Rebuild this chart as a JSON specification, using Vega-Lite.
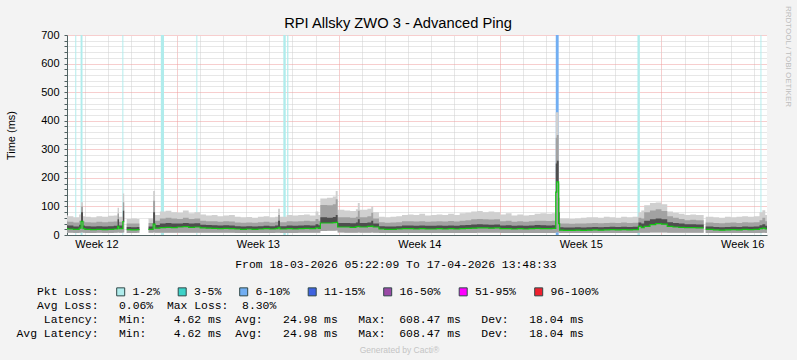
{
  "$schema": "https://vega.github.io/schema/vega-lite/v6.json",
  "width": 700,
  "height": 200,
  "autosize": {"type": "none"},
  "padding": {"left": 67, "top": 35, "right": 30, "bottom": 125},
  "background": "#F3F3F3",
  "title": {"text": "RPI Allsky ZWO 3 - Advanced Ping", "font": "Liberation Sans", "fontSize": 14.7, "fontWeight": "normal", "color": "#000000", "anchor": "middle", "frame": "group", "dx": -19, "dy": 29},
  "datasets": {
    "loss": [
      {"t0": "2026-03-18T14:00:00Z", "t1": "2026-03-18T15:00:00Z", "loss": "1-2%"},
      {"t0": "2026-03-18T19:30:00Z", "t1": "2026-03-18T21:30:00Z", "loss": "1-2%"},
      {"t0": "2026-03-20T15:00:00Z", "t1": "2026-03-20T16:00:00Z", "loss": "1-2%"},
      {"t0": "2026-03-22T07:00:00Z", "t1": "2026-03-22T10:20:00Z", "loss": "1-2%"},
      {"t0": "2026-03-23T20:00:00Z", "t1": "2026-03-23T21:00:00Z", "loss": "1-2%"},
      {"t0": "2026-03-27T14:30:00Z", "t1": "2026-03-27T17:00:00Z", "loss": "1-2%"},
      {"t0": "2026-03-27T18:30:00Z", "t1": "2026-03-27T19:45:00Z", "loss": "1-2%"},
      {"t0": "2026-04-08T10:00:00Z", "t1": "2026-04-08T13:00:00Z", "loss": "6-10%"},
      {"t0": "2026-04-11T23:00:00Z", "t1": "2026-04-12T01:30:00Z", "loss": "1-2%"},
      {"t0": "2026-04-17T07:00:00Z", "t1": "2026-04-17T08:00:00Z", "loss": "1-2%"}
    ],
    "gaps": [
      {"t0": "2026-03-21T09:00:00Z", "t1": "2026-03-21T18:00:00Z", "top": 55}
    ],
    "smoke": [
      {"t": "2026-03-18T05:22:09Z", "lo": 8, "med": 22, "q3": 34, "u": 48, "hi": 70},
      {"t": "2026-03-18T06:00:00Z", "lo": 8, "med": 21, "q3": 33, "u": 46, "hi": 66},
      {"t": "2026-03-18T12:00:00Z", "lo": 7, "med": 20, "q3": 30, "u": 44, "hi": 62},
      {"t": "2026-03-18T18:00:00Z", "lo": 8, "med": 24, "q3": 36, "u": 50, "hi": 72},
      {"t": "2026-03-18T20:00:00Z", "lo": 9, "med": 48, "q3": 80, "u": 100, "hi": 115},
      {"t": "2026-03-18T22:00:00Z", "lo": 8, "med": 22, "q3": 33, "u": 47, "hi": 66},
      {"t": "2026-03-19T00:00:00Z", "lo": 7, "med": 20, "q3": 31, "u": 45, "hi": 64},
      {"t": "2026-03-19T06:00:00Z", "lo": 7, "med": 19, "q3": 30, "u": 44, "hi": 62},
      {"t": "2026-03-19T12:00:00Z", "lo": 8, "med": 20, "q3": 31, "u": 46, "hi": 66},
      {"t": "2026-03-19T18:00:00Z", "lo": 7, "med": 19, "q3": 30, "u": 45, "hi": 64},
      {"t": "2026-03-20T00:00:00Z", "lo": 7, "med": 20, "q3": 31, "u": 46, "hi": 67},
      {"t": "2026-03-20T06:00:00Z", "lo": 8, "med": 21, "q3": 32, "u": 47, "hi": 68},
      {"t": "2026-03-20T10:00:00Z", "lo": 9, "med": 30, "q3": 55, "u": 75, "hi": 95},
      {"t": "2026-03-20T11:30:00Z", "lo": 8, "med": 22, "q3": 33, "u": 46, "hi": 64},
      {"t": "2026-03-20T15:30:00Z", "lo": 9, "med": 47, "q3": 85, "u": 115, "hi": 145},
      {"t": "2026-03-20T16:55:00Z", "lo": 9, "med": 47, "q3": 85, "u": 115, "hi": 145},
      {"t": "2026-03-20T17:00:00Z", "lo": null, "med": null, "q3": null, "u": null, "hi": null},
      {"t": "2026-03-20T19:30:00Z", "lo": 7, "med": 19, "q3": 28, "u": 40, "hi": 56},
      {"t": "2026-03-21T00:00:00Z", "lo": 7, "med": 18, "q3": 27, "u": 40, "hi": 58},
      {"t": "2026-03-21T06:00:00Z", "lo": 8, "med": 19, "q3": 28, "u": 40, "hi": 56},
      {"t": "2026-03-21T08:55:00Z", "lo": 8, "med": 19, "q3": 28, "u": 40, "hi": 56},
      {"t": "2026-03-21T09:00:00Z", "lo": null, "med": null, "q3": null, "u": null, "hi": null},
      {"t": "2026-03-21T18:00:00Z", "lo": 8, "med": 20, "q3": 30, "u": 42, "hi": 58},
      {"t": "2026-03-21T23:00:00Z", "lo": 9, "med": 38, "q3": 80, "u": 120, "hi": 154},
      {"t": "2026-03-22T01:00:00Z", "lo": 8, "med": 24, "q3": 35, "u": 50, "hi": 70},
      {"t": "2026-03-22T06:00:00Z", "lo": 8, "med": 26, "q3": 40, "u": 58, "hi": 82},
      {"t": "2026-03-22T12:00:00Z", "lo": 8, "med": 27, "q3": 42, "u": 60, "hi": 85},
      {"t": "2026-03-22T18:00:00Z", "lo": 8, "med": 26, "q3": 40, "u": 58, "hi": 80},
      {"t": "2026-03-23T00:00:00Z", "lo": 8, "med": 28, "q3": 40, "u": 56, "hi": 78},
      {"t": "2026-03-23T06:00:00Z", "lo": 8, "med": 29, "q3": 42, "u": 60, "hi": 86},
      {"t": "2026-03-23T12:00:00Z", "lo": 8, "med": 27, "q3": 40, "u": 56, "hi": 76},
      {"t": "2026-03-23T18:00:00Z", "lo": 8, "med": 28, "q3": 41, "u": 58, "hi": 80},
      {"t": "2026-03-24T00:00:00Z", "lo": 8, "med": 25, "q3": 36, "u": 50, "hi": 72},
      {"t": "2026-03-24T06:00:00Z", "lo": 8, "med": 24, "q3": 35, "u": 48, "hi": 68},
      {"t": "2026-03-24T12:00:00Z", "lo": 8, "med": 23, "q3": 34, "u": 48, "hi": 70},
      {"t": "2026-03-24T18:00:00Z", "lo": 8, "med": 22, "q3": 33, "u": 46, "hi": 66},
      {"t": "2026-03-25T00:00:00Z", "lo": 8, "med": 23, "q3": 34, "u": 48, "hi": 68},
      {"t": "2026-03-25T06:00:00Z", "lo": 8, "med": 22, "q3": 33, "u": 47, "hi": 70},
      {"t": "2026-03-25T12:00:00Z", "lo": 7, "med": 21, "q3": 31, "u": 44, "hi": 64},
      {"t": "2026-03-25T18:00:00Z", "lo": 7, "med": 20, "q3": 30, "u": 43, "hi": 62},
      {"t": "2026-03-26T00:00:00Z", "lo": 7, "med": 21, "q3": 31, "u": 44, "hi": 63},
      {"t": "2026-03-26T06:00:00Z", "lo": 7, "med": 20, "q3": 30, "u": 43, "hi": 60},
      {"t": "2026-03-26T12:00:00Z", "lo": 7, "med": 21, "q3": 31, "u": 45, "hi": 64},
      {"t": "2026-03-26T18:00:00Z", "lo": 7, "med": 22, "q3": 32, "u": 46, "hi": 66},
      {"t": "2026-03-27T00:00:00Z", "lo": 7, "med": 21, "q3": 31, "u": 44, "hi": 62},
      {"t": "2026-03-27T06:00:00Z", "lo": 8, "med": 22, "q3": 33, "u": 46, "hi": 64},
      {"t": "2026-03-27T09:00:00Z", "lo": 8, "med": 26, "q3": 50, "u": 70, "hi": 92},
      {"t": "2026-03-27T11:00:00Z", "lo": 7, "med": 21, "q3": 31, "u": 45, "hi": 64},
      {"t": "2026-03-27T18:00:00Z", "lo": 7, "med": 22, "q3": 33, "u": 48, "hi": 70},
      {"t": "2026-03-28T00:00:00Z", "lo": 7, "med": 21, "q3": 32, "u": 47, "hi": 68},
      {"t": "2026-03-28T06:00:00Z", "lo": 8, "med": 22, "q3": 33, "u": 48, "hi": 70},
      {"t": "2026-03-28T12:00:00Z", "lo": 8, "med": 23, "q3": 34, "u": 50, "hi": 72},
      {"t": "2026-03-28T18:00:00Z", "lo": 8, "med": 22, "q3": 33, "u": 48, "hi": 68},
      {"t": "2026-03-29T00:00:00Z", "lo": 8, "med": 25, "q3": 38, "u": 56, "hi": 82},
      {"t": "2026-03-29T03:00:00Z", "lo": 8, "med": 23, "q3": 34, "u": 50, "hi": 70},
      {"t": "2026-03-29T05:00:00Z", "lo": 14, "med": 42, "q3": 62, "u": 105, "hi": 128},
      {"t": "2026-03-29T12:00:00Z", "lo": 15, "med": 42, "q3": 60, "u": 104, "hi": 130},
      {"t": "2026-03-29T18:00:00Z", "lo": 15, "med": 43, "q3": 63, "u": 108, "hi": 135},
      {"t": "2026-03-29T21:00:00Z", "lo": 16, "med": 44, "q3": 70, "u": 125, "hi": 154},
      {"t": "2026-03-29T23:00:00Z", "lo": 9, "med": 28, "q3": 42, "u": 62, "hi": 88},
      {"t": "2026-03-30T06:00:00Z", "lo": 8, "med": 28, "q3": 42, "u": 62, "hi": 86},
      {"t": "2026-03-30T12:00:00Z", "lo": 8, "med": 27, "q3": 41, "u": 60, "hi": 84},
      {"t": "2026-03-30T18:00:00Z", "lo": 8, "med": 29, "q3": 44, "u": 64, "hi": 90},
      {"t": "2026-03-30T20:00:00Z", "lo": 9, "med": 30, "q3": 55, "u": 85, "hi": 112},
      {"t": "2026-03-30T22:00:00Z", "lo": 8, "med": 28, "q3": 42, "u": 62, "hi": 88},
      {"t": "2026-03-31T06:00:00Z", "lo": 8, "med": 30, "q3": 44, "u": 66, "hi": 92},
      {"t": "2026-03-31T10:00:00Z", "lo": 9, "med": 31, "q3": 50, "u": 78, "hi": 100},
      {"t": "2026-03-31T12:00:00Z", "lo": 8, "med": 28, "q3": 40, "u": 58, "hi": 80},
      {"t": "2026-03-31T18:00:00Z", "lo": 7, "med": 21, "q3": 31, "u": 45, "hi": 64},
      {"t": "2026-04-01T00:00:00Z", "lo": 7, "med": 20, "q3": 30, "u": 43, "hi": 62},
      {"t": "2026-04-01T06:00:00Z", "lo": 7, "med": 20, "q3": 30, "u": 44, "hi": 64},
      {"t": "2026-04-01T12:00:00Z", "lo": 7, "med": 21, "q3": 31, "u": 45, "hi": 66},
      {"t": "2026-04-01T18:00:00Z", "lo": 7, "med": 22, "q3": 33, "u": 48, "hi": 70},
      {"t": "2026-04-02T00:00:00Z", "lo": 7, "med": 22, "q3": 33, "u": 48, "hi": 72},
      {"t": "2026-04-02T06:00:00Z", "lo": 7, "med": 21, "q3": 32, "u": 47, "hi": 70},
      {"t": "2026-04-02T12:00:00Z", "lo": 7, "med": 22, "q3": 33, "u": 48, "hi": 74},
      {"t": "2026-04-02T18:00:00Z", "lo": 7, "med": 21, "q3": 32, "u": 46, "hi": 68},
      {"t": "2026-04-03T00:00:00Z", "lo": 7, "med": 21, "q3": 32, "u": 47, "hi": 70},
      {"t": "2026-04-03T06:00:00Z", "lo": 7, "med": 22, "q3": 33, "u": 48, "hi": 72},
      {"t": "2026-04-03T12:00:00Z", "lo": 7, "med": 21, "q3": 32, "u": 47, "hi": 70},
      {"t": "2026-04-03T18:00:00Z", "lo": 7, "med": 22, "q3": 33, "u": 49, "hi": 74},
      {"t": "2026-04-04T00:00:00Z", "lo": 7, "med": 21, "q3": 32, "u": 47, "hi": 70},
      {"t": "2026-04-04T06:00:00Z", "lo": 7, "med": 22, "q3": 34, "u": 50, "hi": 76},
      {"t": "2026-04-04T12:00:00Z", "lo": 7, "med": 23, "q3": 35, "u": 52, "hi": 78},
      {"t": "2026-04-04T18:00:00Z", "lo": 7, "med": 24, "q3": 37, "u": 55, "hi": 82},
      {"t": "2026-04-05T00:00:00Z", "lo": 8, "med": 25, "q3": 38, "u": 56, "hi": 84},
      {"t": "2026-04-05T06:00:00Z", "lo": 8, "med": 25, "q3": 37, "u": 55, "hi": 80},
      {"t": "2026-04-05T12:00:00Z", "lo": 8, "med": 24, "q3": 36, "u": 54, "hi": 82},
      {"t": "2026-04-05T18:00:00Z", "lo": 8, "med": 25, "q3": 37, "u": 55, "hi": 80},
      {"t": "2026-04-06T00:00:00Z", "lo": 7, "med": 22, "q3": 33, "u": 48, "hi": 72},
      {"t": "2026-04-06T06:00:00Z", "lo": 7, "med": 22, "q3": 34, "u": 50, "hi": 76},
      {"t": "2026-04-06T12:00:00Z", "lo": 7, "med": 21, "q3": 32, "u": 46, "hi": 68},
      {"t": "2026-04-06T18:00:00Z", "lo": 7, "med": 22, "q3": 33, "u": 48, "hi": 72},
      {"t": "2026-04-07T00:00:00Z", "lo": 7, "med": 21, "q3": 32, "u": 46, "hi": 68},
      {"t": "2026-04-07T06:00:00Z", "lo": 7, "med": 22, "q3": 33, "u": 48, "hi": 70},
      {"t": "2026-04-07T12:00:00Z", "lo": 7, "med": 23, "q3": 35, "u": 50, "hi": 74},
      {"t": "2026-04-07T18:00:00Z", "lo": 7, "med": 22, "q3": 34, "u": 50, "hi": 76},
      {"t": "2026-04-08T00:00:00Z", "lo": 7, "med": 22, "q3": 33, "u": 49, "hi": 74},
      {"t": "2026-04-08T06:00:00Z", "lo": 7, "med": 23, "q3": 34, "u": 50, "hi": 76},
      {"t": "2026-04-08T10:00:00Z", "lo": 10, "med": 150, "q3": 250, "u": 340, "hi": 430},
      {"t": "2026-04-08T11:00:00Z", "lo": 10, "med": 186, "q3": 260, "u": 350, "hi": 430},
      {"t": "2026-04-08T13:00:00Z", "lo": 8, "med": 40, "q3": 80, "u": 130, "hi": 180},
      {"t": "2026-04-08T14:00:00Z", "lo": 7, "med": 17, "q3": 27, "u": 40, "hi": 58},
      {"t": "2026-04-08T18:00:00Z", "lo": 7, "med": 16, "q3": 26, "u": 40, "hi": 58},
      {"t": "2026-04-09T00:00:00Z", "lo": 7, "med": 16, "q3": 26, "u": 39, "hi": 56},
      {"t": "2026-04-09T06:00:00Z", "lo": 7, "med": 17, "q3": 27, "u": 40, "hi": 58},
      {"t": "2026-04-09T12:00:00Z", "lo": 7, "med": 16, "q3": 26, "u": 40, "hi": 60},
      {"t": "2026-04-09T18:00:00Z", "lo": 7, "med": 17, "q3": 27, "u": 41, "hi": 62},
      {"t": "2026-04-10T00:00:00Z", "lo": 7, "med": 18, "q3": 28, "u": 42, "hi": 62},
      {"t": "2026-04-10T06:00:00Z", "lo": 7, "med": 17, "q3": 27, "u": 41, "hi": 60},
      {"t": "2026-04-10T12:00:00Z", "lo": 7, "med": 18, "q3": 28, "u": 42, "hi": 64},
      {"t": "2026-04-10T18:00:00Z", "lo": 7, "med": 19, "q3": 29, "u": 43, "hi": 62},
      {"t": "2026-04-11T00:00:00Z", "lo": 7, "med": 18, "q3": 28, "u": 42, "hi": 60},
      {"t": "2026-04-11T06:00:00Z", "lo": 7, "med": 19, "q3": 29, "u": 44, "hi": 64},
      {"t": "2026-04-11T12:00:00Z", "lo": 7, "med": 18, "q3": 28, "u": 42, "hi": 62},
      {"t": "2026-04-11T18:00:00Z", "lo": 7, "med": 19, "q3": 29, "u": 43, "hi": 64},
      {"t": "2026-04-12T00:00:00Z", "lo": 8, "med": 30, "q3": 44, "u": 60, "hi": 80},
      {"t": "2026-04-12T03:00:00Z", "lo": 8, "med": 26, "q3": 40, "u": 58, "hi": 86},
      {"t": "2026-04-12T06:00:00Z", "lo": 8, "med": 30, "q3": 50, "u": 80, "hi": 104},
      {"t": "2026-04-12T12:00:00Z", "lo": 9, "med": 36, "q3": 55, "u": 86, "hi": 112},
      {"t": "2026-04-12T18:00:00Z", "lo": 9, "med": 40, "q3": 58, "u": 90, "hi": 114},
      {"t": "2026-04-13T00:00:00Z", "lo": 9, "med": 38, "q3": 55, "u": 84, "hi": 108},
      {"t": "2026-04-13T06:00:00Z", "lo": 8, "med": 30, "q3": 45, "u": 66, "hi": 82},
      {"t": "2026-04-13T12:00:00Z", "lo": 8, "med": 28, "q3": 42, "u": 60, "hi": 78},
      {"t": "2026-04-13T18:00:00Z", "lo": 8, "med": 27, "q3": 40, "u": 56, "hi": 74},
      {"t": "2026-04-14T00:00:00Z", "lo": 8, "med": 26, "q3": 38, "u": 52, "hi": 70},
      {"t": "2026-04-14T06:00:00Z", "lo": 8, "med": 26, "q3": 38, "u": 53, "hi": 72},
      {"t": "2026-04-14T12:00:00Z", "lo": 8, "med": 25, "q3": 37, "u": 52, "hi": 70},
      {"t": "2026-04-14T19:55:00Z", "lo": 8, "med": 25, "q3": 37, "u": 52, "hi": 70},
      {"t": "2026-04-14T20:00:00Z", "lo": null, "med": null, "q3": null, "u": null, "hi": null},
      {"t": "2026-04-14T22:00:00Z", "lo": 7, "med": 20, "q3": 30, "u": 44, "hi": 64},
      {"t": "2026-04-15T06:00:00Z", "lo": 7, "med": 18, "q3": 28, "u": 42, "hi": 62},
      {"t": "2026-04-15T12:00:00Z", "lo": 7, "med": 17, "q3": 27, "u": 41, "hi": 60},
      {"t": "2026-04-15T18:00:00Z", "lo": 7, "med": 18, "q3": 28, "u": 43, "hi": 64},
      {"t": "2026-04-16T00:00:00Z", "lo": 7, "med": 19, "q3": 29, "u": 44, "hi": 62},
      {"t": "2026-04-16T06:00:00Z", "lo": 7, "med": 18, "q3": 28, "u": 42, "hi": 64},
      {"t": "2026-04-16T12:00:00Z", "lo": 7, "med": 20, "q3": 30, "u": 45, "hi": 66},
      {"t": "2026-04-16T18:00:00Z", "lo": 7, "med": 19, "q3": 29, "u": 44, "hi": 64},
      {"t": "2026-04-17T00:00:00Z", "lo": 7, "med": 20, "q3": 30, "u": 45, "hi": 66},
      {"t": "2026-04-17T06:00:00Z", "lo": 7, "med": 22, "q3": 34, "u": 52, "hi": 80},
      {"t": "2026-04-17T09:00:00Z", "lo": 8, "med": 24, "q3": 38, "u": 60, "hi": 87},
      {"t": "2026-04-17T12:00:00Z", "lo": 7, "med": 21, "q3": 32, "u": 48, "hi": 70},
      {"t": "2026-04-17T13:48:33Z", "lo": 7, "med": 21, "q3": 32, "u": 48, "hi": 70}
    ]
  },
  "layer": [
    {
      "data": {"name": "loss"},
      "mark": {"type": "rect"},
      "encoding": {
        "x": {
          "field": "t0", "type": "temporal",
          "scale": {"type": "utc", "nice": false, "domain": [{"year": 2026, "month": 3, "date": 18, "hours": 5, "minutes": 22, "seconds": 9, "utc": true}, {"year": 2026, "month": 4, "date": 17, "hours": 13, "minutes": 48, "seconds": 33, "utc": true}]},
          "axis": {
            "orient": "bottom",
            "values": [
              {"year": 2026, "month": 3, "date": 19, "utc": true},
              {"year": 2026, "month": 3, "date": 19, "hours": 12, "utc": true},
              {"year": 2026, "month": 3, "date": 20, "utc": true},
              {"year": 2026, "month": 3, "date": 21, "utc": true},
              {"year": 2026, "month": 3, "date": 22, "utc": true},
              {"year": 2026, "month": 3, "date": 23, "utc": true},
              {"year": 2026, "month": 3, "date": 24, "utc": true},
              {"year": 2026, "month": 3, "date": 25, "utc": true},
              {"year": 2026, "month": 3, "date": 26, "utc": true},
              {"year": 2026, "month": 3, "date": 26, "hours": 12, "utc": true},
              {"year": 2026, "month": 3, "date": 27, "utc": true},
              {"year": 2026, "month": 3, "date": 28, "utc": true},
              {"year": 2026, "month": 3, "date": 29, "utc": true},
              {"year": 2026, "month": 3, "date": 30, "utc": true},
              {"year": 2026, "month": 3, "date": 31, "utc": true},
              {"year": 2026, "month": 4, "date": 1, "utc": true},
              {"year": 2026, "month": 4, "date": 2, "utc": true},
              {"year": 2026, "month": 4, "date": 2, "hours": 12, "utc": true},
              {"year": 2026, "month": 4, "date": 3, "utc": true},
              {"year": 2026, "month": 4, "date": 4, "utc": true},
              {"year": 2026, "month": 4, "date": 5, "utc": true},
              {"year": 2026, "month": 4, "date": 6, "utc": true},
              {"year": 2026, "month": 4, "date": 7, "utc": true},
              {"year": 2026, "month": 4, "date": 8, "utc": true},
              {"year": 2026, "month": 4, "date": 9, "utc": true},
              {"year": 2026, "month": 4, "date": 9, "hours": 12, "utc": true},
              {"year": 2026, "month": 4, "date": 10, "utc": true},
              {"year": 2026, "month": 4, "date": 11, "utc": true},
              {"year": 2026, "month": 4, "date": 12, "utc": true},
              {"year": 2026, "month": 4, "date": 13, "utc": true},
              {"year": 2026, "month": 4, "date": 14, "utc": true},
              {"year": 2026, "month": 4, "date": 15, "utc": true},
              {"year": 2026, "month": 4, "date": 16, "utc": true},
              {"year": 2026, "month": 4, "date": 16, "hours": 12, "utc": true},
              {"year": 2026, "month": 4, "date": 17, "utc": true}
            ],
            "labelExpr": "utchours(datum.value) == 12 ? 'Week ' + utcFormat(datum.value, '%V') : ''",
            "labelOverlap": false,
            "labelFlush": false,
            "labelFont": "Liberation Sans",
            "labelFontSize": 11,
            "labelColor": "#000000",
            "labelPadding": 3,
            "ticks": false,
            "domain": true,
            "domainColor": "#506262",
            "grid": true,
            "gridDash": [1, 1],
            "gridColor": {"condition": {"test": "utcday(datum.value) == 1", "value": "#EE9C9C"}, "value": "#CFCFCF"},
            "gridOpacity": {"condition": {"test": "utchours(datum.value) == 12", "value": 0}, "value": 1},
            "title": [
              "\u200b\u00a0\u00a0\u00a0\u00a0\u00a0\u00a0\u00a0\u00a0\u00a0\u00a0\u00a0\u00a0\u00a0\u00a0\u00a0\u00a0\u00a0\u00a0\u00a0\u00a0\u00a0\u00a0\u00a0\u00a0\u00a0\u00a0\u00a0\u00a0\u00a0\u00a0\u00a0\u00a0From 18-03-2026 05:22:09 To 17-04-2026 13:48:33",
              "\u200b",
              "\u200b",
              "\u200b\u00a0\u00a0\u00a0Avg Loss:\u00a0\u00a0\u00a00.06%\u00a0\u00a0Max Loss:\u00a0\u00a08.30%",
              "\u200b\u00a0\u00a0\u00a0\u00a0Latency:\u00a0\u00a0\u00a0Min:\u00a0\u00a0\u00a0\u00a04.62 ms\u00a0\u00a0Avg:\u00a0\u00a0\u00a024.98 ms\u00a0\u00a0\u00a0Max:\u00a0\u00a0608.47 ms\u00a0\u00a0\u00a0Dev:\u00a0\u00a0\u00a018.04 ms",
              "Avg Latency:\u00a0\u00a0\u00a0Min:\u00a0\u00a0\u00a0\u00a04.62 ms\u00a0\u00a0Avg:\u00a0\u00a0\u00a024.98 ms\u00a0\u00a0\u00a0Max:\u00a0\u00a0608.47 ms\u00a0\u00a0\u00a0Dev:\u00a0\u00a0\u00a018.04 ms"
            ],
            "titleFont": "Liberation Mono",
            "titleFontSize": 11.4,
            "titleFontWeight": "normal",
            "titleColor": "#000000",
            "titleAlign": "left",
            "titleAnchor": "start",
            "titleBaseline": "alphabetic",
            "titleX": -51,
            "titleY": 32,
            "titleLineHeight": 13.9
          }
        },
        "x2": {"field": "t1"},
        "color": {
          "field": "loss", "type": "nominal",
          "scale": {"domain": ["1-2%", "3-5%", "6-10%", "11-15%", "16-50%", "51-95%", "96-100%"], "range": ["#B0ECEC", "#3CD2C8", "#72AEF2", "#3F63E0", "#9A4AA6", "#FF00FF", "#F0202E"]},
          "legend": {
            "orient": "none",
            "legendX": -30,
            "legendY": 251,
            "direction": "horizontal",
            "title": "Pkt Loss:",
            "titleOrient": "left",
            "titleFont": "Liberation Mono",
            "titleFontSize": 11.4,
            "titleFontWeight": "normal",
            "titleColor": "#000000",
            "titlePadding": 16,
            "titleBaseline": "middle",
            "titleAnchor": "middle",
            "labelFont": "Liberation Mono",
            "labelFontSize": 11.4,
            "labelColor": "#000000",
            "labelOffset": 6,
            "labelLimit": 200,
            "columnPadding": 15.5,
            "symbolType": "square",
            "symbolSize": 64,
            "symbolStrokeColor": "#2F4848",
            "symbolStrokeWidth": 1,
            "symbolOpacity": 1,
            "padding": 0
          }
        }
      }
    },
    {
      "data": {"name": "smoke"},
      "mark": {"type": "area", "interpolate": "step-after", "color": "#D0D0D0", "invalid": "break-paths-show-domains"},
      "encoding": {
        "x": {"field": "t", "type": "temporal", "scale": {"type": "utc", "nice": false, "domain": [{"year": 2026, "month": 3, "date": 18, "hours": 5, "minutes": 22, "seconds": 9, "utc": true}, {"year": 2026, "month": 4, "date": 17, "hours": 13, "minutes": 48, "seconds": 33, "utc": true}]}, "axis": null},
        "y": {
          "field": "hi", "type": "quantitative",
          "scale": {"domain": [0, 700], "nice": false, "zero": true},
          "axis": {
            "orient": "left",
            "values": [0, 20, 40, 60, 80, 100, 120, 140, 160, 180, 200, 220, 240, 260, 280, 300, 320, 340, 360, 380, 400, 420, 440, 460, 480, 500, 520, 540, 560, 580, 600, 620, 640, 660, 680, 700],
            "labelExpr": "datum.value % 100 == 0 ? datum.label : ''",
            "labelOverlap": false,
            "labelFont": "Liberation Sans",
            "labelFontSize": 11,
            "labelColor": "#000000",
            "labelPadding": 5,
            "ticks": true,
            "tickSize": 3,
            "tickColor": "#506262",
            "domain": true,
            "domainColor": "#506262",
            "grid": true,
            "gridDash": [1, 1],
            "gridColor": {"condition": {"test": "datum.value % 100 == 0", "value": "#EE9C9C"}, "value": "#CFCFCF"},
            "title": "Time (ms)",
            "titleFont": "Liberation Sans",
            "titleFontSize": 11,
            "titleFontWeight": "normal",
            "titleColor": "#000000",
            "titleAngle": -90,
            "titleAlign": "center",
            "titleBaseline": "middle",
            "titleX": -56,
            "titleY": 100
          }
        },
        "y2": {"field": "lo"}
      }
    },
    {
      "data": {"name": "smoke"},
      "mark": {"type": "area", "interpolate": "step-after", "color": "#A2A2A2", "invalid": "break-paths-show-domains"},
      "encoding": {
        "x": {"field": "t", "type": "temporal", "scale": {"type": "utc", "nice": false, "domain": [{"year": 2026, "month": 3, "date": 18, "hours": 5, "minutes": 22, "seconds": 9, "utc": true}, {"year": 2026, "month": 4, "date": 17, "hours": 13, "minutes": 48, "seconds": 33, "utc": true}]}, "axis": null},
        "y": {"field": "u", "type": "quantitative", "scale": {"domain": [0, 700], "nice": false}, "axis": null},
        "y2": {"field": "lo"}
      }
    },
    {
      "data": {"name": "smoke"},
      "mark": {"type": "area", "interpolate": "step-after", "color": "#4E4E4E", "invalid": "break-paths-show-domains"},
      "encoding": {
        "x": {"field": "t", "type": "temporal", "scale": {"type": "utc", "nice": false, "domain": [{"year": 2026, "month": 3, "date": 18, "hours": 5, "minutes": 22, "seconds": 9, "utc": true}, {"year": 2026, "month": 4, "date": 17, "hours": 13, "minutes": 48, "seconds": 33, "utc": true}]}, "axis": null},
        "y": {"field": "q3", "type": "quantitative", "scale": {"domain": [0, 700], "nice": false}, "axis": null},
        "y2": {"field": "med"}
      }
    },
    {
      "data": {"name": "gaps"},
      "mark": {"type": "rect", "color": "#FFFFFF"},
      "encoding": {
        "x": {
          "field": "t0", "type": "temporal",
          "scale": {"type": "utc", "nice": false, "domain": [{"year": 2026, "month": 3, "date": 18, "hours": 5, "minutes": 22, "seconds": 9, "utc": true}, {"year": 2026, "month": 4, "date": 17, "hours": 13, "minutes": 48, "seconds": 33, "utc": true}]},
          "axis": {
            "orient": "bottom",
            "labels": false,
            "ticks": false,
            "domain": false,
            "grid": false,
            "title": "Generated by Cacti®",
            "titleFont": "Liberation Sans",
            "titleFontSize": 8.5,
            "titleFontWeight": "normal",
            "titleColor": "#C4C4C4",
            "titleAlign": "center",
            "titleAnchor": "start",
            "titleBaseline": "alphabetic",
            "titleX": 332,
            "titleY": 117
          }
        },
        "x2": {"field": "t1"},
        "y": {"field": "top", "type": "quantitative", "scale": {"domain": [0, 700], "nice": false}, "axis": null},
        "y2": {"datum": 0}
      }
    },
    {
      "data": {"name": "smoke"},
      "mark": {"type": "line", "interpolate": "step-after", "color": "#14C214", "strokeWidth": 1.2, "invalid": "break-paths-show-domains"},
      "encoding": {
        "x": {"field": "t", "type": "temporal", "scale": {"type": "utc", "nice": false, "domain": [{"year": 2026, "month": 3, "date": 18, "hours": 5, "minutes": 22, "seconds": 9, "utc": true}, {"year": 2026, "month": 4, "date": 17, "hours": 13, "minutes": 48, "seconds": 33, "utc": true}]}, "axis": null},
        "y": {
          "field": "med", "type": "quantitative", "scale": {"domain": [0, 700], "nice": false},
          "axis": {
            "orient": "right",
            "labels": false,
            "ticks": false,
            "domain": false,
            "grid": false,
            "title": "RRDTOOL / TOBI OETIKER",
            "titleFont": "Liberation Sans",
            "titleFontSize": 8,
            "titleFontWeight": "normal",
            "titleColor": "#BDBDBD",
            "titleAngle": 90,
            "titleAlign": "center",
            "titleBaseline": "middle",
            "titleX": 20.5,
            "titleY": 21
          }
        }
      }
    }
  ],
  "resolve": {"axis": {"x": "independent", "y": "independent"}},
  "config": {
    "view": {"fill": "#FFFFFF", "stroke": null},
    "font": "Liberation Sans"
  }
}
